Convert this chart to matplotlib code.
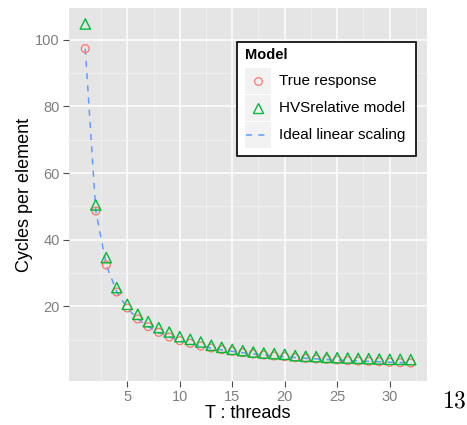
import numpy as np
import matplotlib.pyplot as plt
from matplotlib.lines import Line2D
from matplotlib.patches import Rectangle

plt.rcParams["font.family"] = ["Liberation Sans", "DejaVu Sans"]
plt.rcParams["mathtext.fontset"] = "cm"

# data
threads = list(range(1, 33))
true_resp = [97.3, 48.6, 32.4, 24.3, 19.5, 16.2, 13.9, 12.2, 10.8, 9.7,
             8.9, 8.1, 7.5, 7.0, 6.5, 6.1, 5.7, 5.4, 5.1, 4.9,
             4.6, 4.4, 4.2, 4.1, 3.9, 3.7, 3.6, 3.5, 3.4, 3.2, 3.1, 3.0]
hvs_model = [104.7, 50.4, 34.6, 25.6, 20.6, 17.6, 15.4, 13.6, 12.3, 10.9,
             10.1, 9.3, 8.3, 7.7, 7.1, 6.7, 6.3, 6.0, 5.8, 5.6,
             5.2, 5.0, 4.9, 4.7, 4.6, 4.5, 4.4, 4.3, 4.2, 4.1, 4.1, 4.0]
ideal = [97.3, 48.65, 32.43, 24.33, 19.46, 16.22, 13.9, 12.16, 10.81, 9.73,
         8.85, 8.11, 7.48, 6.95, 6.49, 6.08, 5.72, 5.41, 5.12, 4.87,
         4.63, 4.42, 4.23, 4.05, 3.89, 3.74, 3.6, 3.48, 3.36, 3.24, 3.14, 3.04]
labels = ["True response", "HVSrelative model", "Ideal linear scaling"]

red, green, blue = "#F8766D", "#00BA38", "#619CFF"
W, H = 467, 425

fig = plt.figure(figsize=(W/100, H/100), dpi=100)
ax = fig.add_axes([69/W, 1 - 381/H, (427-69)/W, (381-8)/H])
ax.set_facecolor("#E5E5E5")

ax.set_xlim(-0.55, 33.55)
ax.set_ylim(-2.4, 109.5)
ax.set_xticks([5, 10, 15, 20, 25, 30])
ax.set_yticks([20, 40, 60, 80, 100])
ax.set_xticks(np.arange(2.5, 33, 5), minor=True)
ax.set_yticks([10, 30, 50, 70, 90], minor=True)
ax.grid(which="major", color="white", lw=1.1)
ax.grid(which="minor", color="#F2F2F2", lw=0.6)
ax.set_axisbelow(True)
for s in ax.spines.values():
    s.set_visible(False)
ax.tick_params(which="major", length=4.5, color="#4D4D4D", labelcolor="#7F7F7F",
               labelsize=10.5, pad=2)
ax.tick_params(which="minor", length=0)

ax.plot(threads, ideal, ls=(0, (4, 4)), color=blue, lw=1.1, zorder=2)
ax.scatter(threads, true_resp, marker="o", s=32, facecolors="none", edgecolors=red, lw=0.9, zorder=3)
ax.scatter(threads, hvs_model, marker="^", s=55, facecolors="none", edgecolors=green, lw=1.0, zorder=4)

ax.set_xlabel("T : threads", fontsize=13, labelpad=1)
ax.set_ylabel("Cycles per element", fontsize=13, labelpad=2)

# legend drawn by hand, in figure pixels
def fx(x):
    return x / W

def fy(y):
    return 1 - y / H

fig.patches.append(Rectangle((fx(237), fy(156)), (416-237)/W, (156-42)/H,
                             transform=fig.transFigure, facecolor="white",
                             edgecolor="black", lw=1.2, zorder=5))
fig.text(fx(245), fy(55), "Model", fontsize=10.5, fontweight="bold", va="center", zorder=6)
key_top = [67.7, 95.0, 122.3]
for i, lab in enumerate(labels):
    t = key_top[i]
    fig.patches.append(Rectangle((fx(245), fy(t + 26)), 26/W, 26/H, transform=fig.transFigure,
                                 facecolor="#F2F2F2", edgecolor="none", zorder=6))
    cy = t + 13
    if i == 0:
        fig.add_artist(Line2D([fx(258)], [fy(cy)], ls="none", marker="o", mfc="none",
                              mec=red, ms=5.5, mew=0.9, zorder=7))
    elif i == 1:
        fig.add_artist(Line2D([fx(258)], [fy(cy)], ls="none", marker="^", mfc="none",
                              mec=green, ms=7, mew=1.0, zorder=7))
    else:
        fig.add_artist(Line2D([fx(246), fx(270)], [fy(cy), fy(cy)], ls=(0, (4, 4)),
                              color=blue, lw=1.1, zorder=7))
    fig.text(fx(279), fy(cy), lab, fontsize=11, va="center", zorder=7)

fig.text(fx(454), fy(402), r"$\mathrm{13}$", fontsize=17, ha="center", va="center")

fig.savefig("out.png", dpi=100)
